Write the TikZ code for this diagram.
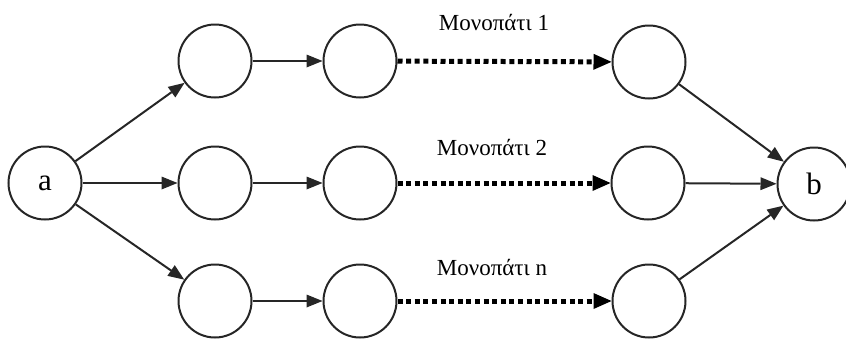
\documentclass[tikz,border=0pt]{standalone}
\usepackage{fontspec}
\setmainfont{Liberation Serif}
\usetikzlibrary{arrows.meta}

\begin{document}
\begin{tikzpicture}[x=1pt, y=-1pt,
    vertex/.style={circle, draw=black!85, line width=2pt, minimum size=73pt, inner sep=0pt,
                   font=\fontsize{31}{36}\selectfont},
    solidarrow/.style={line width=2pt, draw=black!85,
                       -{Triangle[length=16pt, width=13pt, line width=0pt]}},
    dotarrow/.style={line width=5pt, dash pattern=on 5pt off 3.6pt,
                     -{Triangle[length=18pt, width=16pt, line width=0pt]}},
    pathlabel/.style={font=\fontsize{23}{27}\selectfont}]
    \useasboundingbox (0,0) rectangle (846,338);

    % Start & end
    \node[vertex] (a) at (45,183) {a};
    \node[vertex] (b) at (814,184) {b};

    % Path 1
    \node[vertex] (p11) at (215,61) {};
    \node[vertex] (p12) at (360,61) {};
    \node[vertex] (p13) at (649,62) {};
    \node[pathlabel] (lab1) at (494,23) {Μονοπάτι 1};

    % Path 2
    \node[vertex] (p21) at (215,183) {};
    \node[vertex] (p22) at (360,183) {};
    \node[vertex] (p23) at (648,183) {};
    \node[pathlabel] (lab2) at (492,147) {Μονοπάτι 2};

    % Path n
    \node[vertex] (p31) at (215,301) {};
    \node[vertex] (p32) at (360,301) {};
    \node[vertex] (p33) at (649,301) {};
    \node[pathlabel] (labn) at (492,267) {Μονοπάτι n};

    % Arrows out of a
    \draw[solidarrow] (a) -- (p11);
    \draw[solidarrow] (a) -- (p21);
    \draw[solidarrow] (a) -- (p31);

    % Arrows along the paths
    \draw[solidarrow] (p11) -- (p12);
    \draw[solidarrow] (p21) -- (p22);
    \draw[solidarrow] (p31) -- (p32);
    \draw[dotarrow] (p12) -- (p13);
    \draw[dotarrow] (p22) -- (p23);
    \draw[dotarrow] (p32) -- (p33);

    % Arrows into b
    \draw[solidarrow] (p13) -- (b);
    \draw[solidarrow] (p23) -- (b);
    \draw[solidarrow] (p33) -- (b);
\end{tikzpicture}
\end{document}
